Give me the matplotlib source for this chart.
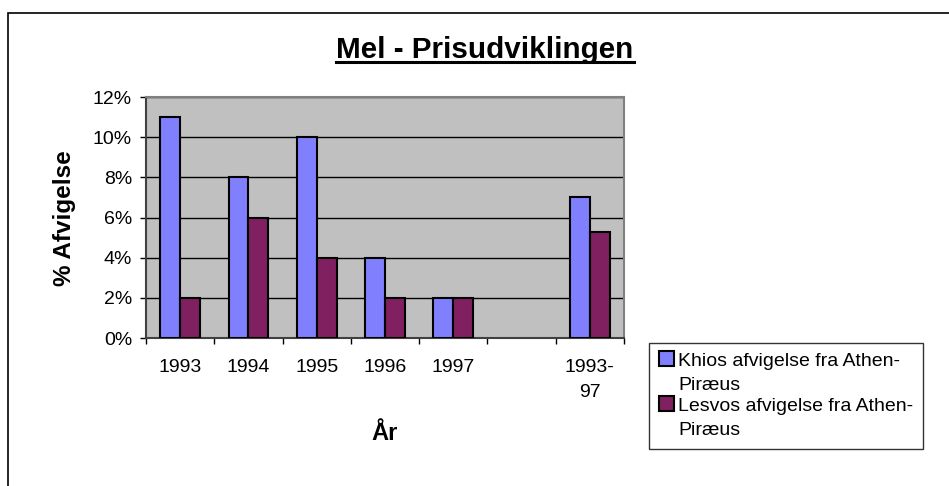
import numpy as np
import matplotlib
matplotlib.use("Agg")
import matplotlib.pyplot as plt
from matplotlib.patches import Patch, Rectangle
from matplotlib.lines import Line2D
from matplotlib.ticker import FuncFormatter
from matplotlib.legend_handler import HandlerPatch

plt.rcParams['font.family'] = ['Liberation Sans', 'DejaVu Sans']

# ---- data ----
categories = ["1993", "1994", "1995", "1996", "1997", "", "1993-\n97"]
khios = [11, 8, 10, 4, 2, np.nan, 7]
lesvos = [2, 6, 4, 2, 2, np.nan, 5.3]
series_names = ["Khios afvigelse fra Athen-\nPiræus",
                "Lesvos afvigelse fra Athen-\nPiræus"]
y_ticks = [0, 2, 4, 6, 8, 10, 12]

col_khios = "#8080FF"
col_lesvos = "#802060"

W, H = 949, 486
fig = plt.figure(figsize=(W / 100, H / 100), dpi=100)

# outer chart border (cropped on right/bottom)
fig.patches.append(Rectangle((8 / W, -0.1), 1.2, 1 - 13 / H + 0.1,
                             transform=fig.transFigure, fill=False,
                             edgecolor="black", linewidth=1.2))

ax = fig.add_axes([146 / W, 1 - 338 / H, (624 - 146) / W, (338 - 97) / H])
ax.set_facecolor("#C0C0C0")

x = np.arange(len(categories))
bw = 0.29
ax.bar(x - bw / 2, khios, bw, color=col_khios, edgecolor="black", linewidth=1.5, zorder=3)
ax.bar(x + bw / 2, lesvos, bw, color=col_lesvos, edgecolor="black", linewidth=1.5, zorder=3)

ax.set_xlim(-0.5, len(categories) - 0.5)
ax.set_ylim(0, 12)
ax.set_yticks(y_ticks)
ax.yaxis.set_major_formatter(FuncFormatter(lambda v, p: f"{v:.0f}%"))
ax.grid(axis="y", color="black", linewidth=1.0, zorder=1)
ax.set_axisbelow(True)

# ticks on category boundaries, labels at centres
ax.set_xticks(np.arange(-0.5, len(categories)))
ax.set_xticklabels([])
ax.set_xticks(x, minor=True)
ax.set_xticklabels(categories, minor=True, fontsize=14, linespacing=1.6)
ax.tick_params(axis="x", which="major", direction="out", length=4.5, width=1)
ax.tick_params(axis="x", which="minor", length=0, pad=15)
ax.tick_params(axis="y", direction="out", length=4, width=1, labelsize=14, pad=6)

for s in ["top", "right"]:
    ax.spines[s].set_color("#808080")
    ax.spines[s].set_linewidth(1.5)
for s in ["left", "bottom"]:
    ax.spines[s].set_color("#404040")
    ax.spines[s].set_linewidth(1.5)

# axis titles
fig.text(65 / W, 1 - 218 / H, "% Afvigelse", rotation=90, ha="center", va="center",
         fontsize=17.5, fontweight="bold")
fig.text(385 / W, 1 - 440 / H, "År", ha="center", va="baseline",
         fontsize=17, fontweight="bold")

# title with underline
title = fig.text(485 / W, 1 - 58 / H, "Mel - Prisudviklingen", ha="center", va="baseline",
                 fontsize=21.3, fontweight="bold")
fig.canvas.draw()
bb = title.get_window_extent().transformed(fig.transFigure.inverted())
fig.lines.append(Line2D([bb.x0, bb.x1], [1 - 62 / H, 1 - 62 / H], transform=fig.transFigure,
                        color="black", linewidth=2.2))


# legend: square marker next to the first line of each two-line label
def top_square(legend, orig_handle, xdescent, ydescent, width, height, fontsize):
    return Rectangle((-xdescent, -ydescent + 10.5), width, height)


handles = [Patch(facecolor=col_khios, edgecolor="black", linewidth=1.5, label=series_names[0]),
           Patch(facecolor=col_lesvos, edgecolor="black", linewidth=1.5, label=series_names[1])]
leg = fig.legend(handles=handles, loc="upper left", bbox_to_anchor=(649 / W, 1 - 343 / H),
                 fontsize=14, frameon=True, fancybox=False, handlelength=0.8, handleheight=0.8,
                 handletextpad=0.2, labelspacing=0.2, borderpad=0.5, borderaxespad=0,
                 handler_map={Patch: HandlerPatch(patch_func=top_square)})
for t in leg.get_texts():
    t.set_linespacing(1.55)
leg.get_frame().set_edgecolor("black")
leg.get_frame().set_linewidth(1.0)

fig.savefig("out.png", dpi=100)
